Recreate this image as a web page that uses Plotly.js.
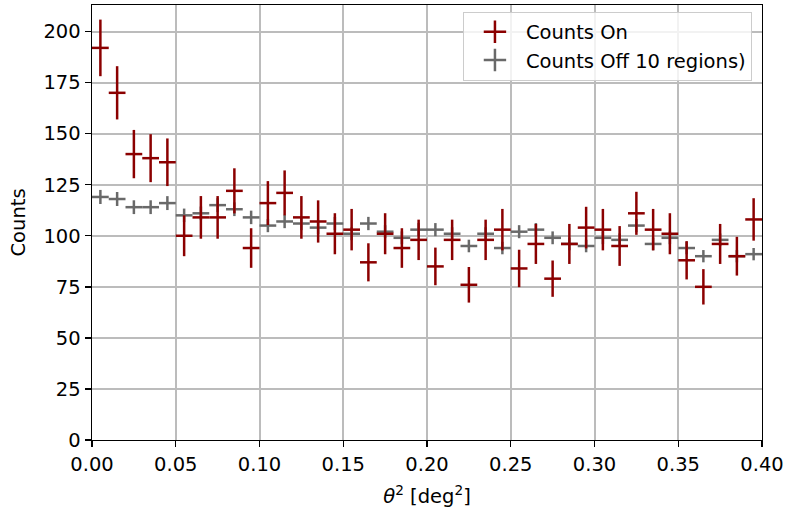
<!DOCTYPE html>
<html>
<head>
<meta charset="utf-8">
<script src="https://cdn.plot.ly/plotly-3.0.1.min.js"></script>
<style>html,body{margin:0;padding:0;background:#fff;}#plot{width:785px;height:508px;}</style>
</head>
<body>
<div id="plot"></div>
<script>
// Bin centers of theta^2 (deg^2), bin width 0.01
const binCenters = [0.005,0.015,0.025,0.035,0.045,0.055,0.065,0.075,0.085,0.095,
  0.105,0.115,0.125,0.135,0.145,0.155,0.165,0.175,0.185,0.195,
  0.205,0.215,0.225,0.235,0.245,0.255,0.265,0.275,0.285,0.295,
  0.305,0.315,0.325,0.335,0.345,0.355,0.365,0.375,0.385,0.395];
const binHalfWidth = 0.005;
const countsOn = [192,170,140,138,136,100,109,109,122,94,
  116,121,109,107,101,103,87,101,94,98,
  85,98,76,98,103,84,96,79,96,104,
  103,95,111,103,101,88,75,96,90,108];
const countsOff = [119,118,114,114,116,110,111,115,113,109,
  105,107,106,104,106,101,106,102,99,103,
  103,101,95,101,94,102,103,99,96,95,
  99,98,105,96,99,94,90,98,90,91];
const offAlpha = 0.1; // 10 off regions
const errOn = countsOn.map(v => Math.sqrt(v));
const errOff = countsOff.map(v => Math.sqrt(v * offAlpha));
const xErr = binCenters.map(() => binHalfWidth);

const colOn = '#8b0000';
const colOff = '#696969';

function errTrace(y, ey, color) {
  return {
    type: 'scatter', mode: 'markers', x: binCenters, y: y,
    marker: {size: 1, color: color, opacity: 0},
    error_y: {type: 'data', array: ey, visible: true, color: color, thickness: 2.5, width: 0},
    error_x: {type: 'data', array: xErr, visible: true, color: color, thickness: 2.5, width: 0},
    showlegend: false, hoverinfo: 'skip'
  };
}
function legendTrace(name, color, grp) {
  return {
    type: 'scatter', mode: 'markers', x: [null], y: [null], name: name, legendgroup: grp,
    marker: {symbol: 'cross-thin-open', size: 20, color: color, line: {color: color, width: 2.5}},
    showlegend: true
  };
}

const data = [
  errTrace(countsOff, errOff, colOff),
  errTrace(countsOn, errOn, colOn),
  legendTrace('Counts On', colOn, 'a'),
  legendTrace('Counts Off 10 regions)', colOff, 'b')
];

const fontFam = 'DejaVu Sans, sans-serif';
const fs = 19.5;
const layout = {
  width: 785, height: 508,
  margin: {l: 92, r: 23, t: 5, b: 68},
  paper_bgcolor: '#fff', plot_bgcolor: '#fff',
  font: {family: fontFam, size: fs, color: '#000'},
  showlegend: true,
  legend: {
    x: 0.985, y: 0.985, xanchor: 'right', yanchor: 'top',
    bgcolor: 'rgba(255,255,255,0.8)', bordercolor: '#cccccc', borderwidth: 1,
    font: {family: fontFam, size: fs, color: '#000'},
    itemwidth: 52, traceorder: 'grouped', tracegroupgap: 0
  },
  xaxis: {
    range: [0, 0.4], dtick: 0.05, tick0: 0, tickformat: '.2f',
    showgrid: true, gridcolor: '#bcbcbc', gridwidth: 2,
    zeroline: false, showline: true, linecolor: '#000', linewidth: 1.4, mirror: true,
    ticks: 'outside', ticklen: 6, tickwidth: 1.4, tickcolor: '#000',
    tickfont: {family: fontFam, size: fs},
    title: {text: '<i>θ</i><sup>2</sup> [deg<sup>2</sup>]', font: {family: fontFam, size: fs}, standoff: 14}
  },
  yaxis: {
    range: [0, 213], dtick: 25, tick0: 0,
    showgrid: true, gridcolor: '#bcbcbc', gridwidth: 2,
    zeroline: false, showline: true, linecolor: '#000', linewidth: 1.4, mirror: true,
    ticks: 'outside', ticklen: 6, tickwidth: 1.4, tickcolor: '#000',
    tickfont: {family: fontFam, size: fs},
    title: {text: 'Counts', font: {family: fontFam, size: fs}, standoff: 12}
  }
};

Plotly.newPlot('plot', data, layout, {displayModeBar: false, staticPlot: true});
</script>
</body>
</html>
